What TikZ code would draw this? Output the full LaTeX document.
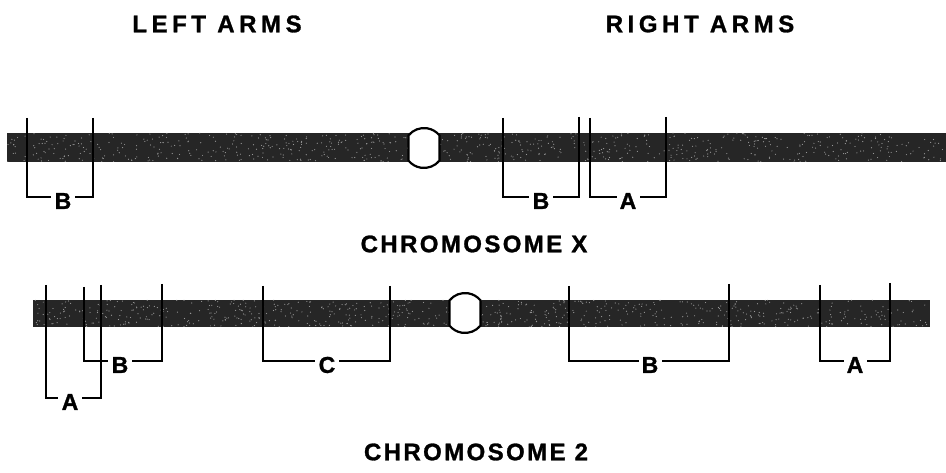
\documentclass[tikz,border=0pt]{standalone}
\usepackage{fontspec}
\setmainfont{Liberation Sans}
\newfontfamily\headfont[LetterSpace=19,FakeBold=1.2]{Liberation Sans Bold}
\newfontfamily\namefont[LetterSpace=10,FakeBold=1.2]{Liberation Sans Bold}
\newfontfamily\markfont[FakeBold=1.2]{Liberation Sans Bold}
\begin{document}
\begin{tikzpicture}[x=1pt,y=-1pt,
  heading/.style={font=\headfont\fontsize{24}{26}\selectfont, inner sep=0pt},
  chromname/.style={font=\namefont\fontsize{24}{26}\selectfont, inner sep=0pt},
  segname/.style={font=\markfont\fontsize{23}{25}\selectfont, inner sep=3pt},
  bracket/.style={line width=1.9pt},
  bar/.style={fill=black!85},
  centromere/.style={draw, line width=2.2pt, fill=white}]
\useasboundingbox[fill=white] (0,0) rectangle (946,473);

% headings
\node[heading] (left)  at (217,24) {LEFT ARMS};
\node[heading] (right) at (700,24) {RIGHT ARMS};

% chromosome bars with a speckled texture
\pgfmathsetseed{7}
\begin{scope}
  \path[clip] (7,133) rectangle (946,162) (33,300) rectangle (930,327);
  \fill[bar] (7,133) rectangle (946,162);
  \fill[bar] (33,300) rectangle (930,327);
  \foreach \i in {1,...,1500}{
    \pgfmathsetmacro\px{7+939*rnd}
    \pgfmathsetmacro\py{rnd<0.5 ? 133+29*rnd : 300+27*rnd}
    \fill[black!40] (\px,\py) circle (0.6);
  }
\end{scope}

% centromere outline: a circle cut by the two edges of the bar gap
\newcommand\centromereshape[1]{%
  \draw[centromere] (#1) ++(-15.5,-12.6)
    arc[start angle=-140.8, end angle=-39.2, radius=20]
    -- ++(0,25.2)
    arc[start angle=39.2, end angle=140.8, radius=20] -- cycle;}

% chromosome X
\coordinate (cx) at (424,148);
\centromereshape{cx}
\node[chromname] (nx) at (474,244) {CHROMOSOME X};

\node[segname] (xb1) at (63,201) {B};
\node[segname] (xb2) at (541,201) {B};
\node[segname] (xa1) at (628,201) {A};
\coordinate (t1) at (27,118);  \coordinate (t2) at (93,118);
\coordinate (t3) at (503,118); \coordinate (t4) at (579,117);
\coordinate (t5) at (590,118); \coordinate (t6) at (666,117);
\tikzset{lw/.style={yshift=4pt}}
\draw[bracket] (t1) |- ([lw]xb1.west);
\draw[bracket] (t2) |- ([lw]xb1.east);
\draw[bracket] (t3) |- ([lw]xb2.west);
\draw[bracket] (t4) |- ([lw]xb2.east);
\draw[bracket] (t5) |- ([lw]xa1.west);
\draw[bracket] (t6) |- ([lw]xa1.east);

% chromosome 2
\coordinate (c2) at (465,313);
\centromereshape{c2}
\node[chromname] (n2) at (476,452) {CHROMOSOME 2};

\coordinate (u1) at (46,285);  \coordinate (u2) at (84,287);
\coordinate (u3) at (101,285); \coordinate (u4) at (162,284);
\coordinate (u5) at (263,286); \coordinate (u6) at (390,286);
\coordinate (u7) at (569,286); \coordinate (u8) at (729,284);
\coordinate (u9) at (820,285); \coordinate (u10) at (890,283);

\node[segname] (la) at (70,402) {A};
\node[segname] (lb) at (120,365) {B};
\node[segname] (lc) at (327,365) {C};
\node[segname] (rb) at (650,365) {B};
\node[segname] (ra) at (855,365) {A};

\draw[bracket] (u1) |- ([lw]la.west);
\draw[bracket] (u3) |- ([lw]la.east);
\draw[bracket] (u2) |- ([lw]lb.west);
\draw[bracket] (u4) |- ([lw]lb.east);
\draw[bracket] (u5) |- ([lw]lc.west);
\draw[bracket] (u6) |- ([lw]lc.east);
\draw[bracket] (u7) |- ([lw]rb.west);
\draw[bracket] (u8) |- ([lw]rb.east);
\draw[bracket] (u9) |- ([lw]ra.west);
\draw[bracket] (u10) |- ([lw]ra.east);
\end{tikzpicture}
\end{document}
